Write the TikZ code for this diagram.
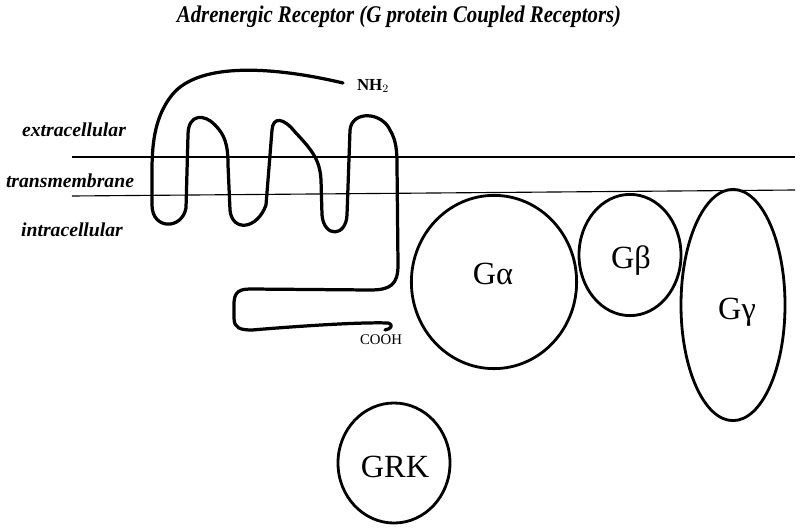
\documentclass[tikz,border=0pt]{standalone}
\usepackage{fontspec}
\setmainfont{Liberation Serif}
\usetikzlibrary{shapes.geometric}

\tikzset{
  protein/.style={line width=2.3pt, line join=round, line cap=round},
  membrane/.style={line width=0.8pt},
  subunit/.style={draw, ellipse, line width=2pt, inner sep=0pt},
  sublabel/.style={font=\fontsize{23}{23}\selectfont},
  region/.style={font=\bfseries\itshape\fontsize{14}{14}\selectfont},
  terminus/.style={font=\fontsize{10.5}{10.5}\selectfont}
}

\begin{document}
\begin{tikzpicture}[x=0.025cm, y=-0.025cm]
  \useasboundingbox (0,0) rectangle (800,531);

  % Titre
  \node (title) at (399,17)
    {\bfseries\itshape\fontsize{17}{17}\selectfont\scalebox{0.87}[1]{Adrenergic Receptor (G protein Coupled Receptors)}};

  % Membrane
  \coordinate (memTL) at (72,157);
  \coordinate (memTR) at (795,157);
  \coordinate (memBL) at (72,196);
  \coordinate (memBR) at (795,190);
  \draw[membrane] (memTL) -- (memTR);
  \draw[membrane] (memBL) -- (memBR);

  % Noms des zones
  \node[region] (extra) at (74,130) {extracellular};
  \node[region] (trans) at (70,181) {transmembrane};
  \node[region] (intra) at (72,230) {intracellular};

  % Recepteur a sept helices
  \draw[protein]
    (343,83) .. controls (280,68) and (200,60) .. (172,95)
    .. controls (156,115) and (152,140) .. (152,170) -- (152,205)
    .. controls (152,230) and (182,230) .. (186,208) -- (188,135)
    .. controls (188,113) and (205,114) .. (215,125)
    .. controls (225,135) and (228,145) .. (228,165) -- (230,210)
    .. controls (232,232) and (257,230) .. (266,205) -- (272,130)
    .. controls (273,116) and (284,118) .. (295,132)
    .. controls (312,150) and (320,160) .. (321,180) -- (322,215)
    .. controls (324,238) and (346,237) .. (347,215) -- (350,130)
    .. controls (352,110) and (382,112) .. (390,130)
    .. controls (396,140) and (397,150) .. (397,165) -- (398,265)
    .. controls (398,285) and (390,290) .. (370,290) -- (250,289)
    .. controls (236,289) and (234,295) .. (234,305) -- (234,318)
    .. controls (234,328) and (240,330) .. (252,330)
    .. controls (300,326) and (360,322) .. (388,323)
    .. controls (394,325) and (391,329) .. (385,330);

  % Extremites
  \node[terminus, font=\bfseries\fontsize{12}{12}\selectfont] (nh2) at (373,86) {NH$_2$};
  \node[terminus] (cooh) at (381,340) {COOH};

  % Proteine G
  \node[subunit, minimum width=4.13cm, minimum height=4.33cm] (galpha) at (494,282) {};
  \node[sublabel] (galphatxt) at (493,274) {Gα};
  \node[subunit, minimum width=2.55cm, minimum height=3.03cm] (gbeta) at (630,255) {};
  \node[sublabel] (gbetatxt) at (631,261) {Gβ};
  \node[subunit, minimum width=2.6cm, minimum height=5.78cm] (ggamma) at (733,305) {};
  \node[sublabel] (ggammatxt) at (737,312) {Gγ};

  % Kinase
  \node[subunit, minimum width=2.8cm, minimum height=3cm] (grk) at (394,463) {};
  \node[sublabel] (grktxt) at (395,467) {GRK};
\end{tikzpicture}
\end{document}
